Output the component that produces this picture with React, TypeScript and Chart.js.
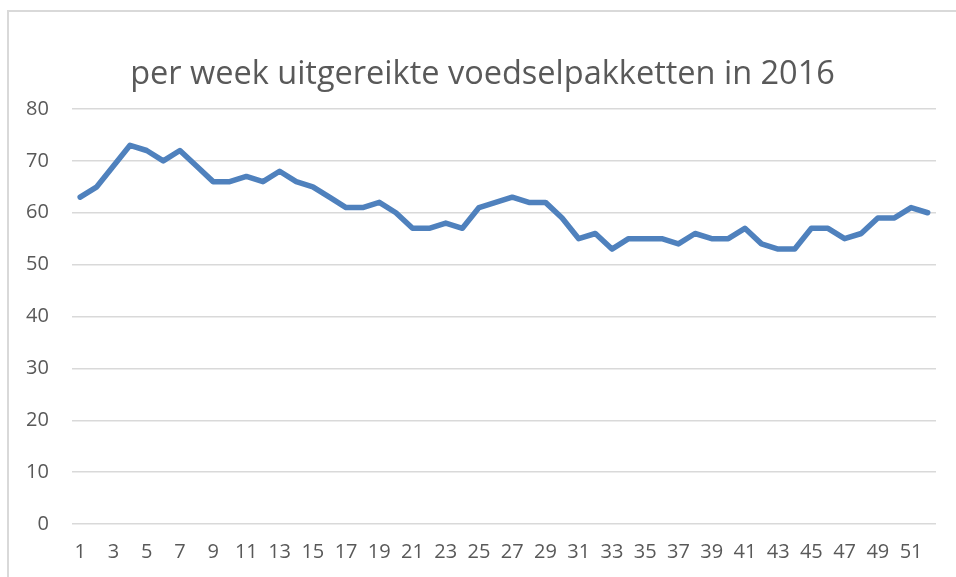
import React, { useEffect, useRef } from "react";
import { Chart, registerables } from "chart.js";

Chart.register(...registerables);

const TITLE = "per week uitgereikte voedselpakketten in 2016";
const weeks: string[] = Array.from({ length: 52 }, (_, i) => String(i + 1));
const values: number[] = [
  63, 65, 69, 73, 72, 70, 72, 69, 66, 66,
  67, 66, 68, 66, 65, 63, 61, 61, 62, 60,
  57, 57, 58, 57, 61, 62, 63, 62, 62, 59,
  55, 56, 53, 55, 55, 55, 54, 56, 55, 55,
  57, 54, 53, 53, 57, 57, 55, 56, 59, 59,
  61, 60,
];
const yMin = 0;
const yMax = 80;
const yStep = 10;

// Title centred over the whole chart frame (like Excel), not over the padded box
const frameTitle = {
  id: "frameTitle",
  afterDraw(chart: any) {
    const ctx = chart.ctx;
    ctx.save();
    ctx.font = '32.5px "Open Sans"';
    ctx.fillStyle = "#595959";
    ctx.textAlign = "center";
    ctx.textBaseline = "middle";
    ctx.fillText(TITLE, 482.5, 75);
    ctx.restore();
  },
};

export default function App() {
  const ref = useRef<HTMLCanvasElement>(null);
  useEffect(() => {
    if (!ref.current) return;
    const chart = new Chart(ref.current, {
      type: "line",
      data: {
        labels: weeks,
        datasets: [
          {
            data: values,
            borderColor: "#4F81BD",
            backgroundColor: "#4F81BD",
            borderWidth: 5.5,
            pointRadius: 0,
            tension: 0,
            borderJoinStyle: "round",
            borderCapStyle: "round",
          },
        ],
      },
      options: {
        responsive: false,
        animation: false,
        layout: { padding: { left: 3, right: 20, top: 109, bottom: -3 } },
        plugins: {
          legend: { display: false },
          tooltip: { enabled: false },
          title: { display: false },
        },
        scales: {
          x: {
            offset: true,
            grid: { display: false, drawTicks: false },
            border: { display: false },
            ticks: {
              autoSkip: false,
              maxRotation: 0,
              color: "#595959",
              font: { family: "Open Sans", size: 20 },
              padding: 16,
              callback: (_v, i) => (i % 2 === 0 ? weeks[i] : ""),
            },
          },
          y: {
            min: yMin,
            max: yMax,
            grid: { color: "#D9D9D9", lineWidth: 1.5, drawTicks: false },
            border: { display: false },
            ticks: {
              stepSize: yStep,
              color: "#595959",
              font: { family: "Open Sans", size: 20 },
              padding: 23,
            },
          },
        },
      },
      plugins: [frameTitle],
    });
    return () => chart.destroy();
  }, []);
  return (
    <div style={{ position: "fixed", left: 0, top: 0, width: 956, height: 577, background: "#fff" }}>
      <div
        style={{
          position: "absolute",
          left: 7,
          top: 10,
          right: 0,
          bottom: 0,
          borderLeft: "2px solid #D9D9D9",
          borderTop: "2px solid #D9D9D9",
        }}
      />
      <canvas ref={ref} width={956} height={577} style={{ position: "absolute", left: 0, top: 0 }} />
    </div>
  );
}
